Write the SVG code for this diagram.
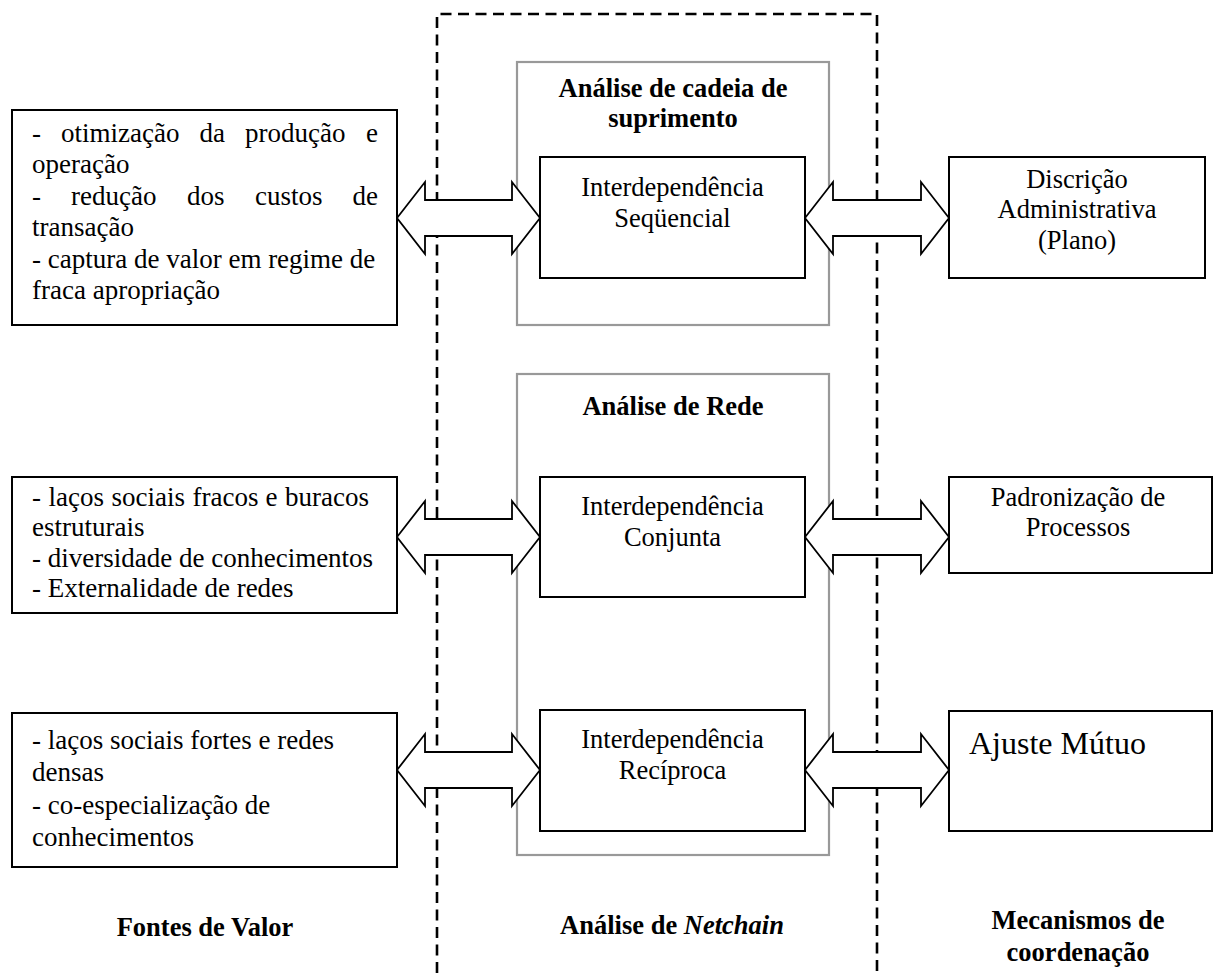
<svg xmlns="http://www.w3.org/2000/svg" width="1214" height="973" viewBox="0 0 1214 973" font-family="'Liberation Serif', 'Times New Roman', serif">
  <style>
    .txt { font-family: "Liberation Serif", "Times New Roman", serif; font-size: 27px; fill: #000; }
    .ctr { font-family: "Liberation Serif", "Times New Roman", serif; font-size: 26.5px; text-anchor: middle; fill: #000; }
    .hdr { font-family: "Liberation Serif", "Times New Roman", serif; font-size: 26.5px; font-weight: bold; text-anchor: middle; fill: #000; }
    .big { font-family: "Liberation Serif", "Times New Roman", serif; font-size: 32px; fill: #000; }
    .box { fill: #fff; stroke: #000; stroke-width: 2; }
    .group { fill: none; stroke: #999; stroke-width: 2.2; }
    .frame { fill: none; stroke: #000; stroke-width: 2.6; stroke-dasharray: 11 6.5; }
    .arrow { fill: #fff; stroke: #000; stroke-width: 1.8; stroke-linejoin: miter; }
  </style>

  <!-- Netchain frame (dashed, open at the bottom) -->
  <path id="netchain-frame" class="frame" d="M437,973 V14 H877 V973"/>

  <!-- Grey grouping boxes -->
  <g id="supply-chain-group">
    <rect class="group" x="517" y="62" width="312" height="263"/>
    <text class="hdr" x="673" y="97">Análise de cadeia de</text>
    <text class="hdr" x="673" y="127">suprimento</text>
  </g>
  <g id="network-group">
    <rect class="group" x="517" y="374" width="312" height="481"/>
    <text class="hdr" x="673" y="415">Análise de Rede</text>
  </g>

  <!-- Connectors: double-headed block arrows -->
  <g id="connectors">
    <polygon class="arrow" points="397,218 425,182 425,200 512,200 512,182 540,218 512,254 512,236 425,236 425,254"/>
    <polygon class="arrow" points="805,218 833,182 833,200 921,200 921,182 949,218 921,254 921,236 833,236 833,254"/>
    <polygon class="arrow" points="397,537 425,501 425,519 512,519 512,501 540,537 512,573 512,555 425,555 425,573"/>
    <polygon class="arrow" points="805,537 833,501 833,519 921,519 921,501 949,537 921,573 921,555 833,555 833,573"/>
    <polygon class="arrow" points="397,770 425,734 425,752 512,752 512,734 540,770 512,806 512,788 425,788 425,806"/>
    <polygon class="arrow" points="805,770 833,734 833,752 921,752 921,734 949,770 921,806 921,788 833,788 833,806"/>
  </g>

  <!-- Sources of value (justified lines set word by word) -->
  <g id="value-sources-1">
    <rect class="box" x="12" y="110" width="385" height="215"/>
    <text class="txt" y="142"><tspan x="32">-</tspan><tspan x="61">otimização</tspan><tspan x="199.5">da</tspan><tspan x="245">produção</tspan><tspan x="366">e</tspan></text>
    <text class="txt" x="32" y="173">operação</text>
    <text class="txt" y="205"><tspan x="32">-</tspan><tspan x="71">redução</tspan><tspan x="187">dos</tspan><tspan x="255">custos</tspan><tspan x="352.5">de</tspan></text>
    <text class="txt" x="32" y="236">transação</text>
    <text class="txt" x="32" y="268">- captura de valor em regime de</text>
    <text class="txt" x="32" y="299">fraca apropriação</text>
  </g>
  <g id="value-sources-2">
    <rect class="box" x="12" y="477" width="385" height="136"/>
    <text class="txt" y="506"><tspan x="32">-</tspan><tspan x="48.5">laços</tspan><tspan x="111.5">sociais</tspan><tspan x="192.5">fracos</tspan><tspan x="265.5">e</tspan><tspan x="285">buracos</tspan></text>
    <text class="txt" x="32" y="536">estruturais</text>
    <text class="txt" x="32" y="567">- diversidade de conhecimentos</text>
    <text class="txt" x="32" y="597">- Externalidade de redes</text>
  </g>
  <g id="value-sources-3">
    <rect class="box" x="12" y="713" width="385" height="154"/>
    <text class="txt" x="32" y="749">- laços sociais fortes e redes</text>
    <text class="txt" x="32" y="781">densas</text>
    <text class="txt" x="32" y="814">- co-especialização de</text>
    <text class="txt" x="32" y="846">conhecimentos</text>
  </g>

  <!-- Interdependence types -->
  <g id="sequential">
    <rect class="box" x="540" y="157" width="265" height="121"/>
    <text class="ctr" x="672.5" y="196">Interdependência</text>
    <text class="ctr" x="672.5" y="227">Seqüencial</text>
  </g>
  <g id="pooled">
    <rect class="box" x="540" y="477" width="265" height="120"/>
    <text class="ctr" x="672.5" y="515">Interdependência</text>
    <text class="ctr" x="672.5" y="546">Conjunta</text>
  </g>
  <g id="reciprocal">
    <rect class="box" x="540" y="710" width="265" height="121"/>
    <text class="ctr" x="672.5" y="748">Interdependência</text>
    <text class="ctr" x="672.5" y="779">Recíproca</text>
  </g>

  <!-- Coordination mechanisms -->
  <g id="plan">
    <rect class="box" x="949" y="157" width="256" height="121"/>
    <text class="ctr" x="1077" y="188">Discrição</text>
    <text class="ctr" x="1077" y="218">Administrativa</text>
    <text class="ctr" x="1077" y="249">(Plano)</text>
  </g>
  <g id="standardization">
    <rect class="box" x="949" y="477" width="263" height="96"/>
    <text class="ctr" x="1078" y="506">Padronização de</text>
    <text class="ctr" x="1078" y="536">Processos</text>
  </g>
  <g id="mutual-adjustment">
    <rect class="box" x="949" y="711" width="263" height="120"/>
    <text class="big" x="969" y="754">Ajuste Mútuo</text>
  </g>

  <!-- Column captions -->
  <g id="captions">
    <text class="hdr" x="205" y="936">Fontes de Valor</text>
    <text class="hdr" x="672" y="934">Análise de <tspan font-style="italic">Netchain</tspan></text>
    <text class="hdr" x="1078" y="929">Mecanismos de</text>
    <text class="hdr" x="1078" y="961">coordenação</text>
  </g>
</svg>
